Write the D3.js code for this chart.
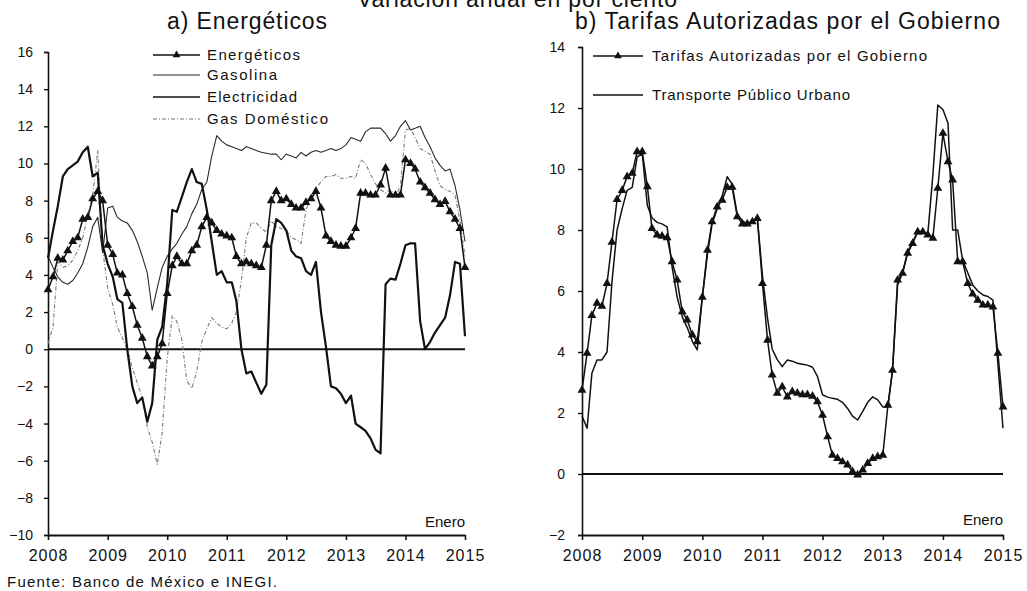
<!DOCTYPE html>
<html>
<head>
<meta charset="utf-8">
<script src="https://cdn.jsdelivr.net/npm/d3@7"></script>
<style>
  body { margin: 0; background: #fff; }
  svg text { font-family: "Liberation Sans", Arial, sans-serif; fill: #111; }
</style>
</head>
<body>
<svg id="chart" width="1027" height="591"></svg>
<script>

// monthly observations, Jan 2008 .. Jan 2015 (85 months)
var energeticos = [3.2, 3.9, 4.9, 4.8, 5.3, 5.8, 6.0, 7.0, 7.1, 8.1, 8.5, 8.0,
  5.6, 5.1, 4.1, 4.0, 3.0, 2.3, 1.3, 0.6, -0.4, -0.9, -0.4, 0.3,
  3.0, 4.5, 5.0, 4.6, 4.6, 5.3, 5.6, 6.6, 7.1, 6.8, 6.4, 6.2,
  6.1, 6.0, 5.0, 4.6, 4.7, 4.6, 4.5, 4.4, 5.6, 8.0, 8.5, 8.0,
  8.1, 7.8, 7.6, 7.6, 7.9, 8.1, 8.5, 7.6, 6.1, 5.8, 5.6, 5.55,
  5.55, 6.0, 6.5, 8.4, 8.4, 8.3, 8.3, 8.85, 9.75, 8.3, 8.3, 8.3,
  10.2, 10.0, 9.7, 9.0, 8.7, 8.4, 8.05, 7.8, 7.96, 7.4, 7.0, 6.5,
  4.4];

var gasolina = [5.0, 4.4, 3.9, 3.6, 3.5, 3.7, 4.1, 4.6, 5.5, 6.6, 7.1, 5.2,
  7.6, 7.7, 7.1, 6.9, 6.8, 6.4, 5.8, 5.0, 4.1, 2.1, 3.3, 4.4,
  5.0, 5.4, 5.7, 6.2, 6.6, 7.3, 7.8, 8.6, 9.0, 10.4, 11.5, 11.2,
  11.0, 10.9, 10.8, 10.7, 10.9, 10.8, 10.7, 10.6, 10.55, 10.5, 10.5, 10.2,
  10.5, 10.4, 10.3, 10.6, 10.4, 10.6, 10.7, 10.6, 10.7, 10.8, 10.7, 10.8,
  11.0, 11.4, 11.3, 11.2, 11.7, 11.9, 11.9, 11.9, 11.6, 11.2, 11.5, 12.0,
  12.3, 11.8, 11.9, 12.0, 11.4, 10.9, 10.3, 9.9, 9.6, 9.7, 8.8, 7.5,
  5.8];

var electricidad = [4.9, 6.4, 7.7, 9.3, 9.7, 9.9, 10.1, 10.6, 10.9, 9.3, 9.5, 5.6,
  4.6, 3.9, 2.7, 2.5, 0.0, -2.0, -2.9, -2.6, -3.9, -2.9, 0.5, 1.2,
  3.5, 7.5, 7.4, 8.2, 9.0, 9.7, 9.0, 8.9, 7.5, 5.8, 4.0, 4.2,
  3.6, 3.6, 2.6, 0.0, -1.3, -1.2, -1.8, -2.4, -1.9, 5.6, 7.0, 6.8,
  6.4, 5.3, 5.0, 4.9, 4.2, 4.0, 4.7, 2.0, 0.1, -2.0, -2.1, -2.4,
  -2.9, -2.5, -4.0, -4.2, -4.4, -4.8, -5.4, -5.6, 3.5, 3.8, 3.75, 4.6,
  5.6, 5.7, 5.7, 1.5, 0.0, 0.4, 0.9, 1.3, 1.7, 2.9, 4.7, 4.6,
  0.7];

var gasDomestico = [0.3, 1.2, 4.7, 4.4, 4.5, 4.8, 5.3, 6.0, 7.2, 8.3, 10.7, 5.4,
  3.3, 2.4, 1.2, 0.6, 0.0, -1.0, -1.8, -2.6, -4.2, -5.0, -6.2, -4.5,
  -0.5, 1.8, 1.5, 0.5, -1.7, -2.1, -1.2, 0.4, 1.1, 1.7, 1.4, 1.2,
  1.1, 1.4, 2.0, 3.7, 6.0, 6.8, 6.8, 6.5, 6.3, 6.9, 6.6, 6.5,
  6.4, 6.0, 5.9, 5.7, 7.5, 8.2, 8.7, 9.0, 9.3, 9.3, 9.4, 9.2,
  9.2, 9.3, 9.2, 10.2, 10.0, 9.4, 8.9, 8.6, 8.4, 8.6, 8.2, 8.8,
  11.8, 11.9, 11.4, 10.8, 10.65, 10.5, 9.6, 8.8, 8.6, 8.5, 8.3, 6.9,
  5.0];

var tarifas = [2.75, 3.96, 5.2, 5.6, 5.5, 6.25, 7.6, 9.0, 9.3, 9.75, 9.86, 10.57,
  10.57, 9.42, 8.05, 7.84, 7.8, 7.75, 6.96, 6.36, 5.32, 5.05, 4.56, 4.34,
  5.8, 7.34, 8.27, 8.76, 8.98, 9.4, 9.4, 8.44, 8.2, 8.2, 8.27, 8.38,
  6.25, 4.39, 3.25, 2.65, 2.86, 2.53, 2.7, 2.65, 2.6, 2.6, 2.55, 2.37,
  1.93, 1.22, 0.62, 0.51, 0.4, 0.3, 0.08, -0.03, 0.13, 0.35, 0.51, 0.57,
  0.62, 2.26, 3.4, 6.36, 6.58, 7.24, 7.56, 7.94, 7.94, 7.84, 7.73, 9.37,
  11.17, 10.24, 9.64, 6.96, 6.96, 6.25, 5.9, 5.7, 5.54, 5.54, 5.48, 3.96,
  2.2];

var transporte = [1.9, 1.5, 3.3, 3.74, 3.74, 4.0, 6.3, 8.0, 8.7, 9.3, 9.4, 10.4,
  10.5, 8.8, 8.4, 8.25, 8.2, 8.1, 6.8, 5.8, 5.15, 4.8, 4.35, 4.07,
  5.8, 7.2, 8.2, 8.7, 9.1, 9.75, 9.5, 8.5, 8.3, 8.2, 8.3, 8.4,
  6.5, 5.1, 4.1, 3.75, 3.52, 3.74, 3.7, 3.63, 3.6, 3.57, 3.5, 3.2,
  2.6, 2.52, 2.48, 2.45, 2.35, 2.15, 1.9, 1.77, 2.05, 2.35, 2.53, 2.43,
  2.2, 2.2, 3.4, 6.2, 6.6, 7.3, 7.6, 7.95, 7.95, 7.85, 9.8, 12.1,
  11.95, 11.5, 8.0, 8.0, 7.0, 6.6, 6.2, 6.0, 5.87, 5.82, 5.7, 3.6,
  1.5];

var years = [2008, 2009, 2010, 2011, 2012, 2013, 2014, 2015];
var ticksA = [16, 14, 12, 10, 8, 6, 4, 2, 0, -2, -4, -6, -8, -10];
var ticksB = [14, 12, 10, 8, 6, 4, 2, 0, -2];

var months = d3.timeMonth.range(new Date(2008, 0, 1), new Date(2015, 0, 2));

var svg = d3.select("#chart");
var triangle = d3.symbol().type(d3.symbolTriangle).size(34);

function drawPanel(p) {
  var x = d3.scaleTime()
    .domain([new Date(2008, 0, 1), new Date(2015, 0, 1)])
    .range([p.left, p.right]);
  var y = d3.scaleLinear()
    .domain(p.yDomain)
    .range([p.bottom, p.top]);

  var g = svg.append("g");

  // y axis
  g.append("g")
    .attr("transform", "translate(" + p.left + ",0)")
    .call(d3.axisLeft(y).tickValues(p.yTicks).tickSize(4).tickSizeOuter(4).tickPadding(p.yPad))
    .call(function(a) {
      a.select(".domain").attr("stroke", "#111").attr("stroke-width", 1.6);
      a.selectAll(".tick line").attr("stroke", "#111").attr("stroke-width", 1.4);
      a.selectAll("text").style("font-size", "14px").attr("fill", "#111");
    });

  // x axis
  g.append("g")
    .attr("transform", "translate(0," + p.bottom + ")")
    .call(d3.axisBottom(x)
      .tickValues(years.map(function(yr) { return new Date(yr, 0, 1); }))
      .tickFormat(d3.timeFormat("%Y"))
      .tickSize(5).tickSizeOuter(0).tickPadding(10))
    .call(function(a) {
      a.select(".domain").attr("stroke", "#111").attr("stroke-width", 2);
      a.selectAll(".tick line").attr("stroke", "#111").attr("stroke-width", 1.6);
      a.selectAll("text").style("font-size", "16px").style("letter-spacing", "1px").attr("fill", "#111");
    });

  // zero line
  g.append("line")
    .attr("x1", p.left).attr("x2", p.right)
    .attr("y1", y(0)).attr("y2", y(0))
    .attr("stroke", "#111").attr("stroke-width", 2);

  g.append("text")
    .attr("x", p.right).attr("y", p.eneroY)
    .attr("text-anchor", "end")
    .style("font-size", "15px")
    .text("Enero");

  var line = d3.line()
    .x(function(d, i) { return x(months[i]); })
    .y(function(d) { return y(d); });

  p.series.forEach(function(s) {
    g.append("path")
      .datum(s.values)
      .attr("fill", "none")
      .attr("stroke", s.color)
      .attr("stroke-width", s.width)
      .attr("stroke-dasharray", s.dash || null)
      .attr("stroke-linejoin", "round")
      .attr("d", line);

    if (s.markers) {
      g.selectAll(null)
        .data(s.values)
        .enter().append("path")
        .attr("d", triangle)
        .attr("fill", "#111")
        .attr("transform", function(d, i) {
          return "translate(" + x(months[i]) + "," + y(d) + ")";
        });
    }
  });

  // legend
  p.series.forEach(function(s) {
    var lg = g.append("g");
    lg.append("line")
      .attr("x1", p.legX0).attr("x2", p.legX1)
      .attr("y1", s.legY).attr("y2", s.legY)
      .attr("stroke", s.color)
      .attr("stroke-width", Math.min(s.width, 1.6))
      .attr("stroke-dasharray", s.dash || null);
    if (s.markers) {
      lg.append("path")
        .attr("d", d3.symbol().type(d3.symbolTriangle).size(26))
        .attr("fill", "#111")
        .attr("transform", "translate(" + ((p.legX0 + p.legX1) / 2) + "," + s.legY + ")");
    }
    lg.append("text")
      .attr("x", p.legText)
      .attr("y", s.legY + 5)
      .attr("textLength", s.legW)
      .attr("lengthAdjust", "spacing")
      .style("font-size", "15px")
      .text(s.name);
  });

  svg.append("text")
    .attr("x", p.titleX).attr("y", 29)
    .attr("textLength", p.titleW)
    .attr("lengthAdjust", "spacing")
    .style("font-size", "23px")
    .text(p.title);
}

drawPanel({
  left: 48, right: 465, top: 52, bottom: 535,
  yDomain: [-10, 16], yTicks: ticksA, yPad: 11,
  eneroY: 526.5,
  title: "a) Energéticos", titleX: 167, titleW: 160,
  legX0: 153, legX1: 200, legText: 207,
  series: [
    { name: "Gas Doméstico", values: gasDomestico, color: "#7a7a7a", width: 1.1, dash: "4,2,1,2", legY: 119, legW: 121 },
    { name: "Gasolina", values: gasolina, color: "#2a2a2a", width: 1.1, legY: 75, legW: 70 },
    { name: "Electricidad", values: electricidad, color: "#111", width: 2.2, legY: 97, legW: 90 },
    { name: "Energéticos", values: energeticos, color: "#111", width: 1.5, markers: true, legY: 55, legW: 93 }
  ]
});

drawPanel({
  left: 582, right: 1003, top: 47, bottom: 535,
  yDomain: [-2, 14], yTicks: ticksB, yPad: 13,
  eneroY: 525,
  title: "b) Tarifas Autorizadas por el Gobierno", titleX: 575, titleW: 425,
  legX0: 593, legX1: 643, legText: 652,
  series: [
    { name: "Transporte Público Urbano", values: transporte, color: "#111", width: 1.5, legY: 95, legW: 198 },
    { name: "Tarifas Autorizadas por el Gobierno", values: tarifas, color: "#111", width: 1.5, markers: true, legY: 56, legW: 275 }
  ]
});

svg.append("text")
  .attr("x", 357).attr("y", 7)
  .attr("textLength", 320)
  .attr("lengthAdjust", "spacing")
  .style("font-size", "23px")
  .text("Variación anual en por ciento");

svg.append("text")
  .attr("x", 7).attr("y", 587)
  .attr("textLength", 270)
  .attr("lengthAdjust", "spacing")
  .style("font-size", "15px")
  .text("Fuente: Banco de México e INEGI.");

</script>
</body>
</html>
